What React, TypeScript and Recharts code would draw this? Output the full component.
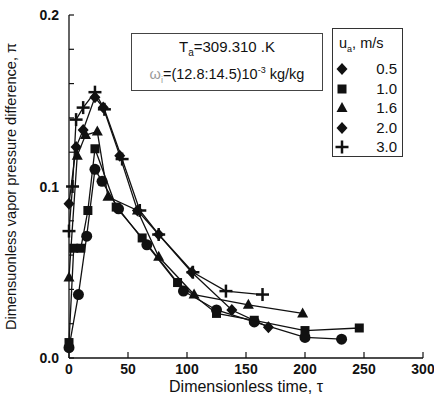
import React from 'react';
import { ScatterChart, Scatter, XAxis, YAxis } from 'recharts';

// dimensionless time (tau) and vapor pressure difference (pi) per air velocity
const tau05 = [0, 8, 15, 22, 28, 42, 66, 97, 125, 157, 200, 231];
const pi05 = [0.006, 0.037, 0.071, 0.11, 0.103, 0.087, 0.066, 0.039, 0.028, 0.021, 0.012, 0.011];

const tau10 = [0, 4, 10, 16, 22, 40, 62, 92, 125, 157, 200, 246];
const pi10 = [0.009, 0.064, 0.064, 0.086, 0.122, 0.088, 0.07, 0.044, 0.026, 0.022, 0.016, 0.0175];

const tau16 = [0, 7, 14, 24, 33, 58, 76, 106, 152, 198];
const pi16 = [0.047, 0.118, 0.13, 0.132, 0.094, 0.086, 0.059, 0.037, 0.031, 0.026];

const tau20 = [0, 6, 12, 22, 29, 43, 58, 76, 104, 138, 169];
const pi20 = [0.09, 0.123, 0.133, 0.152, 0.146, 0.118, 0.086, 0.072, 0.05, 0.028, 0.018];

const tau30 = [0, 3, 6, 12, 22, 30, 45, 60, 76, 105, 133, 164];
const pi30 = [0.074, 0.1, 0.139, 0.146, 0.155, 0.145, 0.116, 0.086, 0.072, 0.05, 0.039, 0.037];

const xTicks = [0, 50, 100, 150, 200, 250, 300];
const yTicks = [0, 0.02, 0.04, 0.06, 0.08, 0.1, 0.12, 0.14, 0.16, 0.18, 0.2];

const legendLabels = ['0.5', '1.0', '1.6', '2.0', '3.0'];
const legendKinds = ['diamond', 'square', 'triangle', 'diamond', 'plus'];

const toPoints = (xs: number[], ys: number[]) => xs.map((x, i) => ({ x, y: ys[i] }));

const INK = '#111';
const FONT = '"Liberation Sans", Arial, sans-serif';

const Marker = ({ cx, cy, kind }: any) => {
  if (cx == null || cy == null) return null;
  switch (kind) {
    case 'circle':
      return <circle cx={cx} cy={cy} r={5.5} fill={INK} />;
    case 'square':
      return <rect x={cx - 4.5} y={cy - 4.5} width={9} height={9} fill={INK} />;
    case 'triangle':
      return <polygon points={`${cx},${cy - 6} ${cx + 5.5},${cy + 4} ${cx - 5.5},${cy + 4}`} fill={INK} />;
    case 'diamond':
      return <polygon points={`${cx},${cy - 6} ${cx + 5.5},${cy} ${cx},${cy + 6} ${cx - 5.5},${cy}`} fill={INK} />;
    default:
      return (
        <g stroke={INK} strokeWidth={2.5}>
          <line x1={cx - 6.5} y1={cy} x2={cx + 6.5} y2={cy} />
          <line x1={cx} y1={cy - 6.5} x2={cx} y2={cy + 6.5} />
        </g>
      );
  }
};

const BottomTick = ({ x, y, payload }: any) => (
  <g>
    <line x1={x} y1={y} x2={x} y2={y - 6} stroke={INK} strokeWidth={1.2} />
    <text x={x} y={y + 16} textAnchor="middle" fontSize={14} fontWeight="bold" fill={INK} fontFamily={FONT}>
      {payload.value}
    </text>
  </g>
);

const TopTick = ({ x, y }: any) => (
  <line x1={x} y1={y} x2={x} y2={y + 6} stroke={INK} strokeWidth={1.2} />
);

const LeftTick = ({ x, y, payload }: any) => {
  const v = payload.value;
  const major = Math.abs(v * 10 - Math.round(v * 10)) < 1e-6;
  return (
    <g>
      <line x1={x} y1={y} x2={x + 5} y2={y} stroke={INK} strokeWidth={1.2} />
      {major && (
        <text x={x - 10} y={y + 5} textAnchor="end" fontSize={14} fontWeight="bold" fill={INK} fontFamily={FONT}>
          {v.toFixed(1)}
        </text>
      )}
    </g>
  );
};

const RightTick = ({ x, y }: any) => (
  <line x1={x} y1={y} x2={x - 6} y2={y} stroke={INK} strokeWidth={1.2} />
);

const series = [
  { key: '0.5', data: toPoints(tau05, pi05), kind: 'circle' },
  { key: '1.0', data: toPoints(tau10, pi10), kind: 'square' },
  { key: '1.6', data: toPoints(tau16, pi16), kind: 'triangle' },
  { key: '2.0', data: toPoints(tau20, pi20), kind: 'diamond' },
  { key: '3.0', data: toPoints(tau30, pi30), kind: 'plus' },
];

export default function App() {
  return (
    <div style={{ position: 'absolute', left: 0, top: 0, width: 434, height: 403, background: '#fff', fontFamily: FONT }}>
      <ScatterChart width={434} height={403} margin={{ top: 15, right: 11, bottom: 15, left: 0 }}>
        <XAxis
          xAxisId="b"
          type="number"
          dataKey="x"
          domain={[0, 300]}
          ticks={xTicks}
          interval={0}
          height={30}
          tickSize={0}
          tickMargin={0}
          stroke={INK}
          strokeWidth={1.3}
          tick={<BottomTick />}
          label={{ value: 'Dimensionless time, τ', position: 'bottom', offset: -7, fontSize: 16, fill: INK, fontFamily: FONT }}
        />
        <XAxis
          xAxisId="t"
          orientation="top"
          type="number"
          dataKey="x"
          domain={[0, 300]}
          ticks={xTicks}
          interval={0}
          height={0}
          tickSize={0}
          tickMargin={0}
          stroke={INK}
          strokeWidth={1.3}
          tick={<TopTick />}
        />
        <YAxis
          yAxisId="l"
          type="number"
          dataKey="y"
          domain={[0, 0.2]}
          ticks={yTicks}
          interval={0}
          width={69}
          tickSize={0}
          tickMargin={0}
          stroke={INK}
          strokeWidth={1.3}
          tick={<LeftTick />}
          label={{
            value: 'Dimensuonless vapor pressure difference, π',
            angle: -90,
            position: 'insideLeft',
            offset: 11,
            fontSize: 14.6,
            fill: INK,
            fontFamily: FONT,
            style: { textAnchor: 'middle' },
          }}
        />
        <YAxis
          yAxisId="r"
          orientation="right"
          type="number"
          dataKey="y"
          domain={[0, 0.2]}
          ticks={yTicks}
          interval={0}
          width={0}
          tickSize={0}
          tickMargin={0}
          stroke={INK}
          strokeWidth={1.3}
          tick={<RightTick />}
        />
        {series.map((s) => (
          <Scatter
            key={s.key}
            xAxisId="b"
            yAxisId="l"
            data={s.data}
            line={{ stroke: INK, strokeWidth: 1.3 }}
            lineType="joint"
            shape={(p: any) => <Marker {...p} kind={s.kind} />}
            isAnimationActive={false}
          />
        ))}
      </ScatterChart>

      {/* conditions box */}
      <div
        style={{
          position: 'absolute', left: 131, top: 33, width: 192, height: 58,
          border: '1.5px solid #444', color: INK, textAlign: 'center', boxSizing: 'border-box',
        }}
      >
        <div style={{ fontSize: 15, marginTop: 4, lineHeight: '18px' }}>
          T<sub style={{ fontSize: 10 }}>a</sub>=309.310 .K
        </div>
        <div style={{ fontSize: 14.5, marginTop: -1, lineHeight: '18px' }}>
          <span style={{ color: '#999' }}>ω<sub style={{ fontSize: 9 }}>i</sub></span>=(12.8:14.5)10<sup style={{ fontSize: 9 }}>-3</sup> kg/kg
        </div>
      </div>

      {/* legend box */}
      <div
        style={{
          position: 'absolute', left: 332, top: 28, width: 71, height: 129,
          border: '1.5px solid #333', color: INK, boxSizing: 'border-box',
        }}
      >
        <div style={{ fontSize: 14.5, position: 'absolute', left: 6, top: 6 }}>
          u<sub style={{ fontSize: 9 }}>a</sub>, m/s
        </div>
        {legendLabels.map((lab, i) => (
          <div key={lab} style={{ position: 'absolute', left: 0, top: 31 + i * 19.5, width: 69, height: 18 }}>
            <svg width={16} height={16} style={{ position: 'absolute', left: 1, top: 1 }}>
              <Marker cx={8} cy={8} kind={legendKinds[i]} />
            </svg>
            <span style={{ position: 'absolute', right: 5, top: 0, fontSize: 15, lineHeight: '18px' }}>{lab}</span>
          </div>
        ))}
      </div>
    </div>
  );
}
